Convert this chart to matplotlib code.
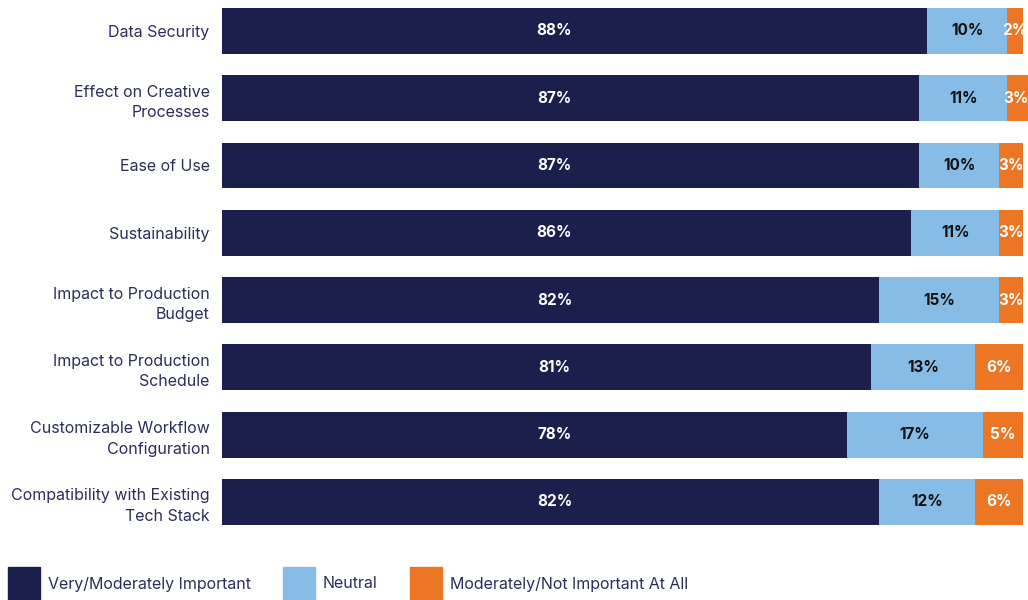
import matplotlib.pyplot as plt
from matplotlib.patches import Rectangle

plt.rcParams['font.family'] = ['Inter', 'DejaVu Sans']

categories = ["Data Security", "Effect on Creative\nProcesses", "Ease of Use", "Sustainability",
              "Impact to Production\nBudget", "Impact to Production\nSchedule",
              "Customizable Workflow\nConfiguration", "Compatibility with Existing\nTech Stack"]
important = [88, 87, 87, 86, 82, 81, 78, 82]
neutral = [10, 11, 10, 11, 15, 13, 17, 12]
not_important = [2, 3, 3, 3, 3, 6, 5, 6]
series_names = ["Very/Moderately Important", "Neutral", "Moderately/Not Important At All"]

navy = "#1b1f4b"
blue = "#86bce5"
orange = "#ec7624"
text_col = "#2b2e5c"

fig = plt.figure(figsize=(10.28, 6), dpi=100)
ax = fig.add_axes([222 / 1028, 64.4 / 600, 806 / 1028, 538.4 / 600])

y = list(range(len(categories)))
h = 0.68
xmax = 100.6
ax.barh(y, important, height=h, color=navy)
ax.barh(y, neutral, left=important, height=h, color=blue)
left3 = [a + b for a, b in zip(important, neutral)]
ax.barh(y, not_important, left=left3, height=h, color=orange)

for i in y:
    ax.text(41.5, i, f"{important[i]}%", ha="center", va="center", color="white",
            fontsize=11, fontweight="bold")
    ax.text(important[i] + neutral[i] / 2, i, f"{neutral[i]}%", ha="center", va="center",
            color="#111111", fontsize=11, fontweight="bold")
    # keep the narrow end labels inside the picture
    x3 = min(left3[i] + not_important[i] / 2, xmax - 1.45)
    ax.text(x3, i, f"{not_important[i]}%", ha="center",
            va="center", color="white", fontsize=11, fontweight="bold")

ax.set_xlim(0, xmax)
ax.set_ylim(len(categories) - 0.5, -0.5)
ax.set_yticks(y)
ax.set_yticklabels(categories, fontsize=11.5, color=text_col, linespacing=1.45)
ax.tick_params(axis="y", length=0, pad=9)
ax.set_xticks([])
for s in ax.spines.values():
    s.set_visible(False)

# legend along the bottom
legend_x = [8, 283, 410]
for name, col, lx in zip(series_names, [navy, blue, orange], legend_x):
    fig.add_artist(Rectangle((lx / 1028, 0), 32 / 1028, 33 / 600, color=col,
                             transform=fig.transFigure))
    fig.text((lx + 40) / 1028, 16 / 600, name, fontsize=11.5, color=text_col, va="center")

fig.savefig("out.png", dpi=100)
